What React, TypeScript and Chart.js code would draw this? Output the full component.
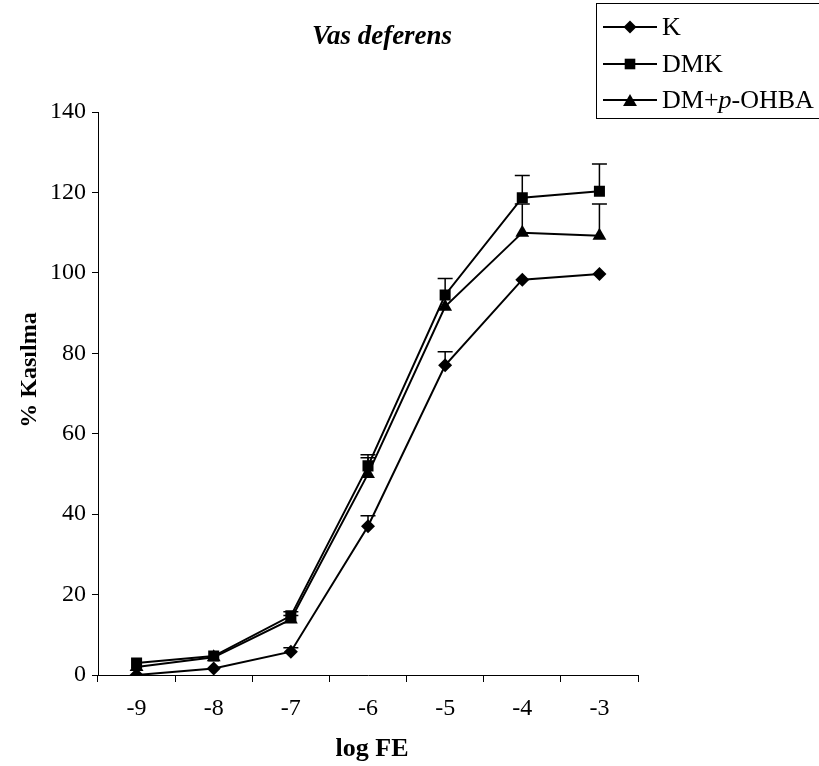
import React, { useEffect, useRef } from "react";
import { Chart, registerables } from "chart.js";

Chart.register(...registerables);

const categories = ["-9", "-8", "-7", "-6", "-5", "-4", "-3"];
const kValues = [0, 1.6, 5.8, 37, 77, 98.3, 99.7];
const kErr = [0, 0, 1, 2.6, 3.4, 0, 0];
const dmkValues = [3, 4.7, 14.7, 52, 94.5, 118.7, 120.3];
const dmkErr = [0, 0, 1, 2.8, 4.1, 5.5, 6.8];
const dmpValues = [2, 4.4, 13.8, 50, 91.6, 110, 109.2];
const dmpErr = [0, 0, 1, 4, 0, 7.1, 7.9];
const yTicks = [0, 20, 40, 60, 80, 100, 120, 140];

const SERIF = "'Liberation Serif', 'Times New Roman', serif";

const errorBars = {
  id: "errorBars",
  afterDatasetsDraw(chart: any) {
    const ctx = chart.ctx;
    const y = chart.scales.y;
    ctx.save();
    ctx.strokeStyle = "#000";
    ctx.lineWidth = 1.5;
    chart.data.datasets.forEach((ds: any, i: number) => {
      const meta = chart.getDatasetMeta(i);
      meta.data.forEach((pt: any, j: number) => {
        const e = ds.errors[j];
        if (!e) return;
        const x = pt.x;
        const y0 = y.getPixelForValue(ds.data[j]);
        const y1 = y.getPixelForValue(ds.data[j] + e);
        ctx.beginPath();
        ctx.moveTo(x, y0);
        ctx.lineTo(x, y1);
        ctx.moveTo(x - 7.5, y1);
        ctx.lineTo(x + 7.5, y1);
        ctx.stroke();
      });
    });
    ctx.restore();
  },
};

function drawMarker(ctx: any, style: string, r: number, x: number, y: number) {
  ctx.beginPath();
  if (style === "rectRot") {
    ctx.moveTo(x - r, y);
    ctx.lineTo(x, y - r);
    ctx.lineTo(x + r, y);
    ctx.lineTo(x, y + r);
  } else if (style === "rect") {
    const s = r * Math.SQRT1_2;
    ctx.rect(x - s, y - s, 2 * s, 2 * s);
  } else {
    ctx.moveTo(x, y - r);
    ctx.lineTo(x + r * 0.866, y + r / 2);
    ctx.lineTo(x - r * 0.866, y + r / 2);
  }
  ctx.closePath();
  ctx.fill();
}

const decorations = {
  id: "decorations",
  afterDraw(chart: any) {
    const ctx = chart.ctx;
    ctx.save();
    ctx.fillStyle = "#000";
    // title
    ctx.font = `italic bold 27px ${SERIF}`;
    ctx.textAlign = "center";
    ctx.textBaseline = "middle";
    ctx.fillText("Vas deferens", 382, 37);
    // axis titles
    ctx.font = `bold 26px ${SERIF}`;
    ctx.fillText("log FE", 372, 749);
    ctx.font = `bold 24px ${SERIF}`;
    ctx.save();
    ctx.translate(30, 370);
    ctx.rotate(-Math.PI / 2);
    ctx.fillText("% Kasılma", 0, 0);
    ctx.restore();
    // legend box
    ctx.strokeStyle = "#000";
    ctx.lineWidth = 1;
    ctx.strokeRect(596.5, 3.5, 240, 115);
    const rows = [
      { y: 27, style: "rectRot", r: 6.5, dy: 0, label: ["K"] },
      { y: 64, style: "rect", r: 7.5, dy: 0, label: ["DMK"] },
      { y: 100, style: "triangle", r: 8, dy: 2, label: ["DM+", "p", "-OHBA"] },
    ];
    rows.forEach((row) => {
      ctx.beginPath();
      ctx.lineWidth = 2;
      ctx.moveTo(603, row.y);
      ctx.lineTo(657, row.y);
      ctx.stroke();
      drawMarker(ctx, row.style, row.r, 630, row.y + row.dy);
      let x = 662;
      ctx.textAlign = "left";
      ctx.textBaseline = "middle";
      row.label.forEach((part, k) => {
        ctx.font = part === "p" && k === 1 ? `italic 26px ${SERIF}` : `26px ${SERIF}`;
        ctx.fillText(part, x, row.y + 1);
        x += ctx.measureText(part).width;
      });
    });
    ctx.restore();
  },
};

export default function App() {
  const ref = useRef<HTMLCanvasElement>(null);
  useEffect(() => {
    if (!ref.current) return;
    const mk = (label: string, data: number[], errors: number[], style: string, r: number) => ({
      label,
      data,
      errors,
      borderColor: "#000",
      backgroundColor: "#000",
      borderWidth: 2,
      pointStyle: style,
      pointRadius: r,
      pointBorderWidth: 0,
      pointBackgroundColor: "#000",
      tension: 0,
      fill: false,
    });
    const chart = new Chart(ref.current, {
      type: "line",
      data: {
        labels: categories,
        datasets: [
          mk("K", kValues, kErr, "rectRot", 7),
          mk("DMK", dmkValues, dmkErr, "rect", 7.8),
          mk("DM+p-OHBA", dmpValues, dmpErr, "triangle", 8),
        ] as any,
      },
      options: {
        animation: false,
        responsive: false,
        devicePixelRatio: 1,
        layout: { padding: { top: 112, right: 181, left: 0, bottom: 0 } },
        plugins: {
          legend: { display: false },
          title: { display: false },
          tooltip: { enabled: false },
        },
        scales: {
          x: {
            type: "category",
            offset: true,
            grid: {
              offset: true,
              drawOnChartArea: false,
              drawTicks: true,
              tickLength: 7,
              color: "#000",
            },
            border: { display: true, color: "#000", width: 1 },
            ticks: {
              color: "#000",
              font: { family: SERIF, size: 24 },
              padding: 12,
              maxRotation: 0,
            },
            afterFit: (s: any) => {
              s.height = 91;
            },
          },
          y: {
            min: 0,
            max: 140,
            afterBuildTicks: (s: any) => {
              s.ticks = yTicks.map((v) => ({ value: v }));
            },
            grid: {
              drawOnChartArea: false,
              drawTicks: true,
              tickLength: 6,
              color: "#000",
            },
            border: { display: true, color: "#000", width: 1 },
            ticks: {
              color: "#000",
              font: { family: SERIF, size: 24 },
              padding: 6,
            },
            afterFit: (s: any) => {
              s.width = 98;
            },
          },
        },
      },
      plugins: [errorBars, decorations],
    } as any);
    return () => chart.destroy();
  }, []);
  return (
    <div style={{ position: "fixed", left: 0, top: 0, width: 819, height: 766, background: "#fff" }}>
      <canvas ref={ref} width={819} height={766} style={{ width: 819, height: 766 }} />
    </div>
  );
}
